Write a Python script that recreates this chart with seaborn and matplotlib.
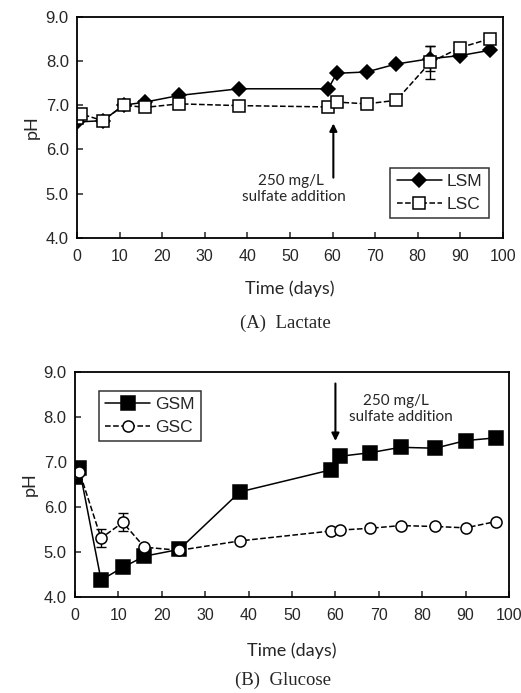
import numpy as np
import pandas as pd
import matplotlib
matplotlib.use("Agg")
import matplotlib.pyplot as plt
import seaborn as sns

# Panel A: lactate
lsm_days = [0, 6, 11, 16, 24, 38, 59, 61, 68, 75, 83, 90, 97]
lsm_ph = [6.62, 6.65, 7.0, 7.07, 7.22, 7.37, 7.37, 7.72, 7.75, 7.93, 8.05, 8.12, 8.24]
lsm_err = [0, 0, 0, 0, 0, 0, 0, 0, 0, 0, 0.28, 0, 0]

lsc_days = [0, 1, 6, 11, 16, 24, 38, 59, 61, 68, 75, 83, 90, 97]
lsc_ph = [6.72, 6.8, 6.65, 7.0, 6.95, 7.03, 6.99, 6.96, 7.07, 7.03, 7.11, 7.97, 8.3, 8.5]
lsc_err = [0, 0, 0, 0, 0, 0, 0, 0, 0, 0, 0, 0.37, 0, 0]

# Panel B: glucose
gsm_days = [0, 1, 6, 11, 16, 24, 38, 59, 61, 68, 75, 83, 90, 97]
gsm_ph = [6.65, 6.85, 4.37, 4.65, 4.9, 5.05, 6.33, 6.82, 7.12, 7.2, 7.32, 7.3, 7.47, 7.53]

gsc_days = [0, 1, 6, 11, 16, 24, 38, 59, 61, 68, 75, 83, 90, 97]
gsc_ph = [6.75, 6.78, 5.3, 5.65, 5.1, 5.03, 5.24, 5.46, 5.48, 5.52, 5.58, 5.56, 5.53, 5.67]
gsc_err = [0, 0, 0.2, 0.2, 0, 0, 0, 0, 0, 0, 0, 0, 0, 0]

x_ticks = [0, 10, 20, 30, 40, 50, 60, 70, 80, 90, 100]
y_ticks = [4.0, 5.0, 6.0, 7.0, 8.0, 9.0]

sns.set_style("ticks")
plt.rcParams['font.family'] = ['Liberation Sans', 'DejaVu Sans']

fig = plt.figure(figsize=(5.21, 6.93), dpi=100)
ax1 = fig.add_axes([0.148, 0.6566, 0.817, 0.3194])
ax2 = fig.add_axes([0.144, 0.139, 0.833, 0.3246])

def series(ax, days, ph, err, marker, ms, face, ls, label):
    sns.lineplot(x=days, y=ph, ax=ax, color='black', marker=marker, markersize=ms,
                 markerfacecolor=face, markeredgecolor='black', markeredgewidth=1.1,
                 linestyle=ls, linewidth=1.1, label=label, sort=False, errorbar=None)
    if err is not None:
        d = np.array(days)
        e = np.array(err)
        m = e > 0
        ax.errorbar(d[m], np.array(ph)[m], yerr=e[m], fmt='none', ecolor='black',
                    elinewidth=1.0, capsize=3.5, zorder=1)

def style_axes(ax, xpad):
    ax.set_xlim(0, 100)
    ax.set_ylim(4.0, 9.0)
    ax.set_xticks(x_ticks)
    ax.set_yticks(y_ticks)
    ax.set_yticklabels([f"{v:.1f}" for v in y_ticks])
    ax.tick_params(direction='in', length=4, width=1.1, labelsize=12)
    ax.tick_params(axis='x', pad=8, labelsize=11.5)
    ax.tick_params(axis='y', pad=6)
    for s in ax.spines.values():
        s.set_visible(True)
        s.set_linewidth(1.3)
        s.set_color('black')
    ax.set_ylabel('pH', fontsize=13, family='Lato', labelpad=4)
    ax.set_xlabel('Time (days)', fontsize=13, family='Lato', labelpad=xpad)

# Panel A
series(ax1, lsm_days, lsm_ph, lsm_err, 'D', 7.5, 'black', '-', 'LSM')
series(ax1, lsc_days, lsc_ph, lsc_err, 's', 8.5, 'white', '--', 'LSC')
style_axes(ax1, 12)
ax1.annotate('', xy=(60.2, 6.65), xytext=(60.2, 5.3),
             arrowprops=dict(arrowstyle='-|>', color='black', lw=1.5, mutation_scale=11))
ax1.text(58, 5.29, '250 mg/L', fontsize=11, family='Lato', ha='right', va='center')
ax1.text(51, 4.92, 'sulfate addition', fontsize=11, family='Lato', ha='center', va='center')
ax1.legend(loc='lower right', bbox_to_anchor=(0.987, 0.05), frameon=True, fancybox=False,
           edgecolor='black', fontsize=12.5, handlelength=2.6, borderpad=0.35,
           labelspacing=0.45, handletextpad=0.3).get_frame().set_linewidth(1.1)

# Panel B
series(ax2, gsm_days, gsm_ph, None, 's', 9.5, 'black', '-', 'GSM')
series(ax2, gsc_days, gsc_ph, gsc_err, 'o', 8, 'white', '--', 'GSC')
style_axes(ax2, 14)
ax2.annotate('', xy=(60, 7.4), xytext=(60, 8.8),
             arrowprops=dict(arrowstyle='-|>', color='black', lw=1.5, mutation_scale=11))
ax2.text(74, 8.36, '250 mg/L', fontsize=11, family='Lato', ha='center', va='center')
ax2.text(75, 7.99, 'sulfate addition', fontsize=11, family='Lato', ha='center', va='center')
ax2.legend(loc='upper left', bbox_to_anchor=(0.035, 0.955), frameon=True, fancybox=False,
           edgecolor='black', fontsize=12.5, handlelength=2.6, borderpad=0.35,
           labelspacing=0.45, handletextpad=0.3).get_frame().set_linewidth(1.1)

fig.text(0.547, 1 - 323 / 693, '(A)  Lactate', fontsize=13.5, family='Liberation Serif',
         ha='center', va='center')
fig.text(0.543, 1 - 680 / 693, '(B)  Glucose', fontsize=13.5, family='Liberation Serif',
         ha='center', va='center')

fig.savefig('out.png', dpi=100)
